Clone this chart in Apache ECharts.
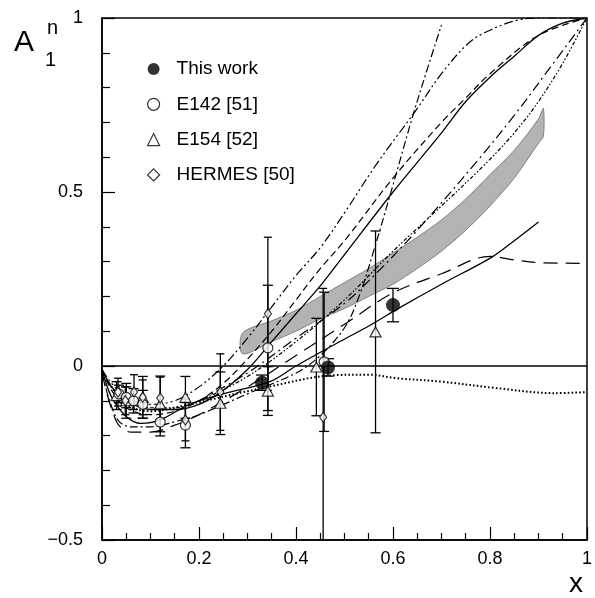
<!DOCTYPE html>
<html><head><meta charset="utf-8">
<script src="https://cdn.jsdelivr.net/npm/echarts@6/dist/echarts.min.js"></script>
<style>html,body{margin:0;padding:0;background:#fff}#c{width:595px;height:598px}</style>
</head><body><div id="c"></div>
<script>
// ---- data points ----
const thisWorkX = [0.33, 0.466, 0.60];
const thisWorkY = [-0.048, -0.004, 0.175];
const thisWorkErr = [0.022, 0.025, 0.048];

const e142X = [0.035, 0.05, 0.065, 0.084, 0.12, 0.172, 0.342, 0.458];
const e142Y = [-0.08, -0.09, -0.10, -0.11, -0.161, -0.17, 0.052, 0.012];
const e142Err = [0.025, 0.03, 0.035, 0.04, 0.04, 0.065, 0.18, 0.2];

const e154X = [0.03, 0.05, 0.084, 0.12, 0.172, 0.244, 0.342, 0.442, 0.564];
const e154Y = [-0.085, -0.10, -0.09, -0.109, -0.09, -0.107, -0.072, -0.003, 0.098];
const e154Err = [0.04, 0.05, 0.06, 0.08, 0.06, 0.09, 0.07, 0.14, 0.29];

const hermesX = [0.033, 0.048, 0.066, 0.084, 0.12, 0.172, 0.244, 0.342, 0.456];
const hermesY = [-0.075, -0.10, -0.075, -0.09, -0.092, -0.155, -0.075, 0.15, -0.147];
const hermesErr = [0.04, 0.04, 0.05, 0.05, 0.06, 0.06, 0.11, 0.22, 0.37];

// ---- shaded band ----
const bandX =    [0.29, 0.35, 0.40, 0.45, 0.50, 0.55, 0.60, 0.65, 0.70, 0.75, 0.80, 0.85, 0.90, 0.91];
const bandLow =  [0.035, 0.07, 0.10, 0.135, 0.165, 0.20, 0.235, 0.28, 0.33, 0.39, 0.46, 0.54, 0.64, 0.66];
const bandHigh = [0.095, 0.13, 0.16, 0.20, 0.24, 0.28, 0.325, 0.37, 0.42, 0.48, 0.55, 0.62, 0.71, 0.74];

// ---- model curves ----
const curveAX = [0, 0.02, 0.05, 0.1, 0.15, 0.2, 0.25, 0.3, 0.35, 0.4, 0.45, 0.5, 0.6, 0.7, 0.75, 0.8, 0.85, 0.9, 0.95, 1];
const curveAY = [-0.01, -0.06, -0.1, -0.125, -0.125, -0.11, -0.07, -0.01, 0.07, 0.15, 0.23, 0.32, 0.5, 0.67, 0.76, 0.83, 0.89, 0.95, 0.985, 1.0];

const curveBX = [0, 0.02, 0.05, 0.1, 0.15, 0.2, 0.25, 0.3, 0.35, 0.4, 0.45, 0.5, 0.6, 0.7, 0.75, 0.8, 0.9, 1];
const curveBY = [-0.01, -0.07, -0.12, -0.14, -0.13, -0.1, -0.05, 0.02, 0.1, 0.19, 0.28, 0.36, 0.54, 0.7, 0.77, 0.84, 0.95, 1.0];

const curveCX = [0, 0.02, 0.05, 0.1, 0.15, 0.2, 0.25, 0.3, 0.35, 0.4, 0.45, 0.5, 0.566, 0.648, 0.7, 0.756, 0.8, 0.857, 0.9, 1];
const curveCY = [-0.01, -0.05, -0.09, -0.11, -0.10, -0.06, 0.0, 0.08, 0.17, 0.26, 0.34, 0.44, 0.58, 0.736, 0.84, 0.928, 0.965, 0.994, 1.0, 1.0];

const curveDX = [0, 0.03, 0.06, 0.1, 0.15, 0.2, 0.3, 0.4, 0.45, 0.5, 0.53, 0.56, 0.6, 0.64, 0.67, 0.7];
const curveDY = [-0.02, -0.15, -0.175, -0.175, -0.16, -0.14, -0.08, -0.02, 0.03, 0.11, 0.2, 0.33, 0.52, 0.715, 0.85, 0.98];

const curveEX = [0, 0.02, 0.05, 0.1, 0.15, 0.2, 0.3, 0.4, 0.5, 0.6, 0.7, 0.79, 0.85, 0.9, 0.95, 1];
const curveEY = [-0.01, -0.06, -0.1, -0.12, -0.12, -0.1, -0.03, 0.07, 0.19, 0.33, 0.46, 0.58, 0.67, 0.76, 0.87, 1.0];

const curveFX = [0.2, 0.3, 0.4, 0.5, 0.566, 0.65, 0.77, 0.85, 0.92, 1];
const curveFY = [-0.1, -0.02, 0.08, 0.18, 0.267, 0.39, 0.583, 0.72, 0.85, 1.0];

const curveGX = [0, 0.03, 0.06, 0.1, 0.15, 0.2, 0.3, 0.4, 0.5, 0.6, 0.7, 0.8, 0.85, 0.9, 1];
const curveGY = [-0.02, -0.16, -0.19, -0.19, -0.17, -0.14, -0.06, 0.03, 0.12, 0.21, 0.265, 0.315, 0.305, 0.297, 0.295];

const curveHX = [0.01, 0.05, 0.1, 0.18, 0.342, 0.485, 0.55, 0.607, 0.7, 0.81, 0.933, 1];
const curveHY = [-0.04, -0.11, -0.13, -0.11, -0.06, -0.026, -0.025, -0.035, -0.045, -0.063, -0.078, -0.075];

const curveIX = [0, 0.02, 0.05, 0.08, 0.12, 0.18, 0.25, 0.346, 0.4, 0.485, 0.55, 0.613, 0.7, 0.804, 0.85, 0.9];
const curveIY = [-0.01, -0.09, -0.145, -0.165, -0.155, -0.11, -0.08, -0.045, 0.0, 0.066, 0.115, 0.167, 0.235, 0.313, 0.36, 0.414];

const xTickLabels = ['0', '0.2', '0.4', '0.6', '0.8', '1'];
const yTickLabels = ['\u22120.5', '0', '0.5', '1'];

// ---- build ----
const FONT = 'Liberation Sans, Arial, Helvetica, sans-serif';
const pairs = (xs, ys) => xs.map((x, i) => [x, ys[i]]);

function curve(name, xs, ys, type, width) {
  return {
    type: 'line', name: name, data: pairs(xs, ys), showSymbol: false, smooth: 0.35,
    silent: true, z: 4, clip: true,
    lineStyle: { color: '#000', width: width || 1.2, type: type }
  };
}

function errSeries(name, xs, ys, es, capW) {
  return {
    type: 'custom', name: name + ' errors', silent: true, clip: true, z: 5,
    data: xs.map((x, i) => [x, ys[i] - es[i], ys[i] + es[i]]),
    encode: { x: 0, y: [1, 2] },
    renderItem: (params, api) => {
      const lo = api.coord([api.value(0), api.value(1)]);
      const hi = api.coord([api.value(0), api.value(2)]);
      const w = capW / 2;
      const st = { stroke: '#000', lineWidth: 1.3 };
      return {
        type: 'group', children: [
          { type: 'line', shape: { x1: lo[0], y1: lo[1], x2: hi[0], y2: hi[1] }, style: st },
          { type: 'line', shape: { x1: lo[0] - w, y1: lo[1], x2: lo[0] + w, y2: lo[1] }, style: st },
          { type: 'line', shape: { x1: hi[0] - w, y1: hi[1], x2: hi[0] + w, y2: hi[1] }, style: st }
        ]
      };
    }
  };
}

const openStyle = { color: '#fff', borderColor: '#000', borderWidth: 1.2 };

const series = [
  {
    type: 'custom', name: 'band', silent: true, z: 2,
    data: [[bandX[0], bandLow[0]]],
    encode: { x: 0, y: 1 },
    renderItem: (params, api) => {
      const pts = [];
      for (let i = 0; i < bandX.length; i++) pts.push(api.coord([bandX[i], bandHigh[i]]));
      for (let i = bandX.length - 1; i >= 0; i--) pts.push(api.coord([bandX[i], bandLow[i]]));
      return { type: 'polygon', shape: { points: pts, smooth: 0.3 }, style: { fill: '#b3b3b3', stroke: '#6e6e6e', lineWidth: 0.8 } };
    }
  },
  { type: 'line', name: 'zero', data: [[0, 0], [1, 0]], showSymbol: false, silent: true, z: 3,
    lineStyle: { color: '#000', width: 1.3 } },
  curve('A', curveAX, curveAY, 'solid', 1.3),
  curve('B', curveBX, curveBY, [7, 4]),
  curve('C', curveCX, curveCY, [9, 3, 2, 3, 2, 3]),
  curve('D', curveDX, curveDY, [8, 3, 2, 3]),
  curve('E', curveEX, curveEY, [4, 2, 1.5, 2, 1.5, 2]),
  curve('F', curveFX, curveFY, [10, 4, 2, 4]),
  curve('G', curveGX, curveGY, [14, 8]),
  curve('H', curveHX, curveHY, [1.6, 2.2], 2),
  curve('I', curveIX, curveIY, 'solid', 1.3),
  errSeries('E154 [52]', e154X, e154Y, e154Err, 10),
  errSeries('E142 [51]', e142X, e142Y, e142Err, 10),
  errSeries('HERMES [50]', hermesX, hermesY, hermesErr, 8),
  errSeries('This work', thisWorkX, thisWorkY, thisWorkErr, 12),
  { type: 'scatter', name: 'E154 [52]', data: pairs(e154X, e154Y), symbol: 'triangle', symbolSize: [11, 10],
    itemStyle: openStyle, z: 6, silent: true },
  { type: 'scatter', name: 'E142 [51]', data: pairs(e142X, e142Y), symbol: 'circle', symbolSize: 10,
    itemStyle: openStyle, z: 6, silent: true },
  { type: 'scatter', name: 'HERMES [50]', data: pairs(hermesX, hermesY), symbol: 'diamond', symbolSize: [7, 10],
    itemStyle: openStyle, z: 7, silent: true },
  { type: 'scatter', name: 'This work', data: pairs(thisWorkX, thisWorkY), symbol: 'circle', symbolSize: 14,
    itemStyle: { color: '#000' }, z: 8, silent: true }
];

const chart = echarts.init(document.getElementById('c'), null, { renderer: 'canvas' });
chart.setOption({
  animation: false,
  backgroundColor: '#fff',
  textStyle: { fontFamily: FONT },
  grid: { left: 102, right: 2, top: 18, bottom: 58, show: true, borderColor: '#000', borderWidth: 1.5, backgroundColor: 'transparent' },
  legend: {
    orient: 'vertical', left: 142, top: 54, itemWidth: 12, itemHeight: 12, itemGap: 15.3,
    selectedMode: false,
    textStyle: { fontSize: 19, color: '#000', fontFamily: FONT, lineHeight: 20, padding: [0, 0, 0, 12] },
    data: [
      { name: 'This work', icon: 'circle', itemStyle: { color: '#000', borderWidth: 0 } },
      { name: 'E142 [51]', icon: 'circle', itemStyle: { color: '#fff', borderColor: '#000', borderWidth: 1.2 } },
      { name: 'E154 [52]', icon: 'triangle', itemStyle: { color: '#fff', borderColor: '#000', borderWidth: 1.2 } },
      { name: 'HERMES [50]', icon: 'diamond', itemStyle: { color: '#fff', borderColor: '#000', borderWidth: 1.2 } }
    ]
  },
  xAxis: {
    type: 'value', min: 0, max: 1, interval: 0.2,
    axisLine: { show: true, onZero: false, lineStyle: { color: '#000', width: 1.5 } },
    axisTick: { show: true, inside: true, length: 13, lineStyle: { color: '#000', width: 1.2 } },
    minorTick: { show: true, splitNumber: 4, length: 7, lineStyle: { color: '#000', width: 1.2 } },
    splitLine: { show: false },
    axisLabel: { color: '#000', fontSize: 18, fontFamily: FONT, margin: 10,
      formatter: v => xTickLabels[Math.round(v / 0.2)] }
  },
  yAxis: {
    type: 'value', min: -0.5, max: 1, interval: 0.5,
    axisLine: { show: true, onZero: false, lineStyle: { color: '#000', width: 1.5 } },
    axisTick: { show: true, inside: true, length: 13, lineStyle: { color: '#000', width: 1.2 } },
    minorTick: { show: true, splitNumber: 5, length: 8, lineStyle: { color: '#000', width: 1.2 } },
    splitLine: { show: false },
    axisLabel: { color: '#000', fontSize: 18, fontFamily: FONT, margin: 19, padding: [5, 0, 0, 0],
      formatter: v => yTickLabels[Math.round((v + 0.5) / 0.5)] }
  },
  graphic: [
    { type: 'text', left: 14, top: 28, style: { text: 'A', font: '30px ' + FONT, fill: '#000' } },
    { type: 'text', left: 47, top: 18, style: { text: 'n', font: '20px ' + FONT, fill: '#000' } },
    { type: 'text', left: 45, top: 50, style: { text: '1', font: '20px ' + FONT, fill: '#000' } },
    { type: 'text', left: 569, top: 570, style: { text: 'x', font: '28px ' + FONT, fill: '#000' } }
  ],
  series: series
});
</script>
</body></html>
